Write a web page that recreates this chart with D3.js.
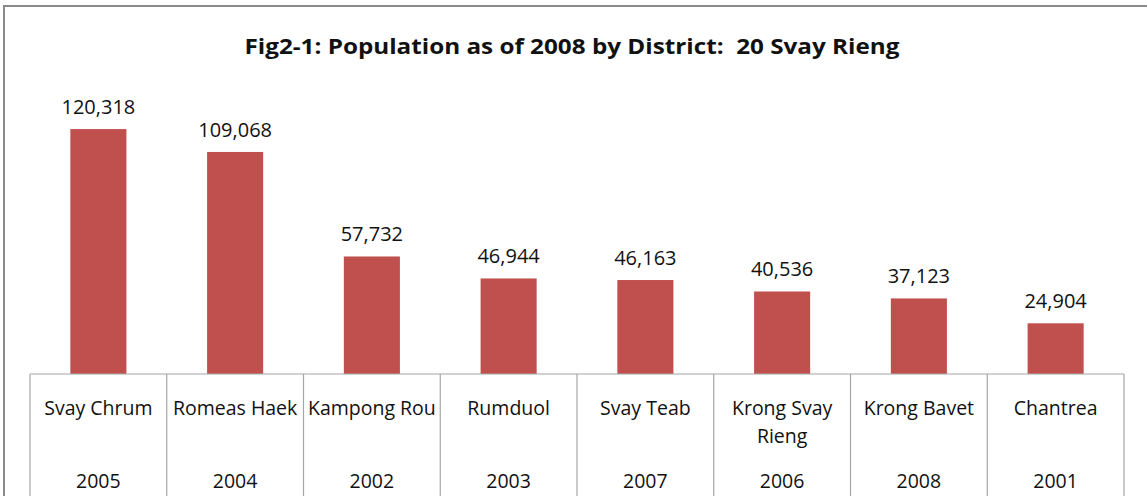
<!DOCTYPE html>
<html>
<head>
<meta charset="utf-8">
<script src="https://d3js.org/d3.v7.min.js"></script>
<style>
  body { margin: 0; background: #fff; }
  text { font-family: "Open Sans", "DejaVu Sans", sans-serif; fill: #111; }
</style>
</head>
<body>
<svg id="chart" width="1147" height="504"></svg>
<script>
// data
var districts = ["Svay Chrum", "Romeas Haek", "Kampong Rou", "Rumduol", "Svay Teab", "Krong Svay Rieng", "Krong Bavet", "Chantrea"];
var codes = ["2005", "2004", "2002", "2003", "2007", "2006", "2008", "2001"];
var population = [120318, 109068, 57732, 46944, 46163, 40536, 37123, 24904];

var svg = d3.select("#chart");
var left = 30, right = 1124, base = 374, bottom = 496;

// frame (only top and left edges show in the crop)
svg.append("path")
  .attr("d", "M4,496 V6 H1147")
  .attr("fill", "none")
  .attr("stroke", "#8a8a8a")
  .attr("stroke-width", 2);

svg.append("text")
  .attr("x", 572).attr("y", 54)
  .attr("text-anchor", "middle")
  .attr("font-size", 22).attr("font-weight", "bold")
  .style("white-space", "pre")
  .attr("textLength", 655).attr("lengthAdjust", "spacingAndGlyphs")
  .text("Fig2-1: Population as of 2008 by District:  20 Svay Rieng");

var x = d3.scaleBand().domain(districts).range([left, right]).paddingInner(0.59).paddingOuter(0.295);
var xc = d3.scaleBand().domain(districts).range([left, right]);
var y = d3.scaleLinear().domain([0, 140000]).range([base, base - 285]);

var data = districts.map(function(d, i) { return { name: d, code: codes[i], value: population[i] }; });

svg.selectAll("rect.bar").data(data).enter().append("rect")
  .attr("class", "bar")
  .attr("x", function(d) { return x(d.name); })
  .attr("width", x.bandwidth())
  .attr("y", function(d) { return y(d.value); })
  .attr("height", function(d) { return base - y(d.value); })
  .attr("fill", "#C0504D");

svg.selectAll("text.val").data(data).enter().append("text")
  .attr("class", "val")
  .attr("x", function(d) { return x(d.name) + x.bandwidth() / 2; })
  .attr("y", function(d) { return y(d.value) - 15; })
  .attr("text-anchor", "middle")
  .attr("font-size", 20)
  .text(function(d) { return d3.format(",")(d.value); });

// axis line and category separators
svg.append("line")
  .attr("x1", left).attr("x2", right).attr("y1", base).attr("y2", base)
  .attr("stroke", "#a6a6a6").attr("stroke-width", 1.2);

var seps = districts.map(function(d) { return xc(d); }).concat([right]);
svg.selectAll("line.sep").data(seps).enter().append("line")
  .attr("class", "sep")
  .attr("x1", function(d) { return d; }).attr("x2", function(d) { return d; })
  .attr("y1", base).attr("y2", bottom)
  .attr("stroke", "#a6a6a6").attr("stroke-width", 1.2);

// category labels, wrapped like the original
var wrapped = { "Krong Svay Rieng": ["Krong Svay", "Rieng"] };
var cat = svg.selectAll("text.cat").data(data).enter().append("text")
  .attr("class", "cat")
  .attr("text-anchor", "middle")
  .attr("font-size", 19.5);
cat.each(function(d) {
  var lines = wrapped[d.name] || [d.name];
  var t = d3.select(this);
  lines.forEach(function(l, i) {
    t.append("tspan")
      .attr("x", xc(d.name) + xc.bandwidth() / 2)
      .attr("y", 415 + i * 28)
      .text(l);
  });
});

svg.selectAll("text.code").data(data).enter().append("text")
  .attr("class", "code")
  .attr("x", function(d) { return xc(d.name) + xc.bandwidth() / 2; })
  .attr("y", 488)
  .attr("text-anchor", "middle")
  .attr("font-size", 19.5)
  .text(function(d) { return d.code; });
</script>
</body>
</html>
